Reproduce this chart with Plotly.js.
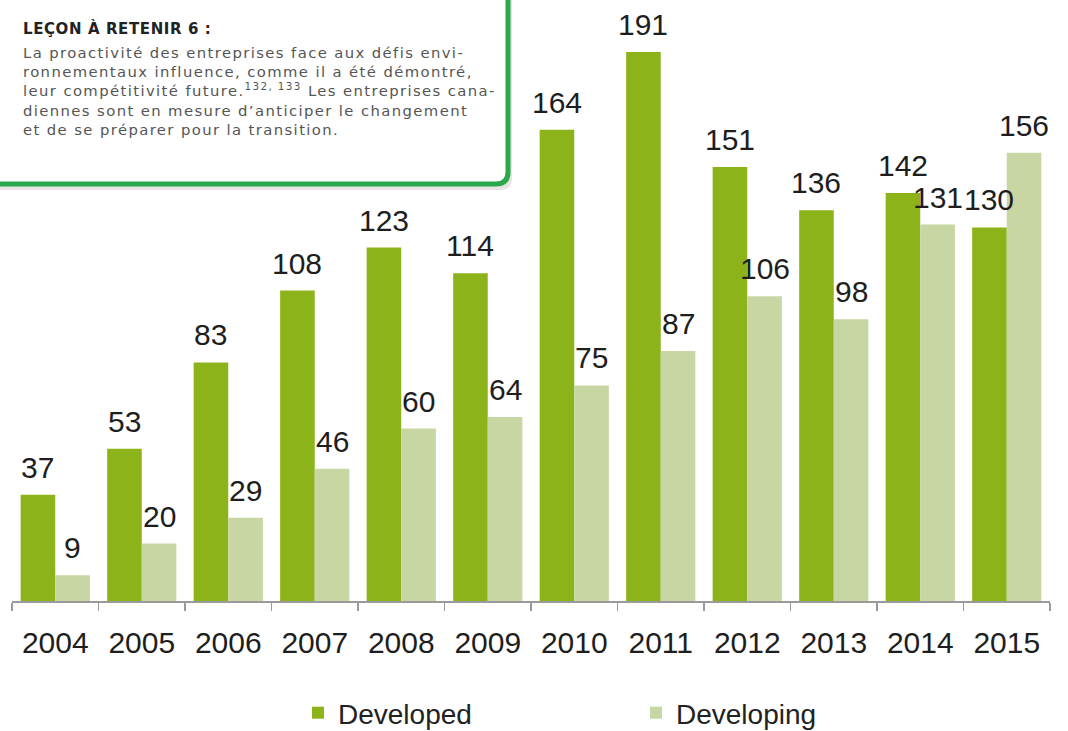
<!DOCTYPE html>
<html>
<head>
<meta charset="utf-8">
<script src="https://cdn.plot.ly/plotly-3.0.1.min.js"></script>
<style>html,body{margin:0;padding:0;background:#fff;}</style>
</head>
<body>
<div id="chart" style="width:1068px;height:731px;"></div>
<script>
// ---- data ----
const years = ['2004','2005','2006','2007','2008','2009','2010','2011','2012','2013','2014','2015'];
const developed = [37, 53, 83, 108, 123, 114, 164, 191, 151, 136, 142, 130];
const developing = [9, 20, 29, 46, 60, 64, 75, 87, 106, 98, 131, 156];
const seriesNames = ['Developed', 'Developing'];
const boxTitle = 'LEÇON À RETENIR 6 :';
const boxLines = [
  'La proactivité des entreprises face aux défis envi-',
  'ronnementaux influence, comme il a été démontré,',
  'leur compétitivité future.<sup>132, 133</sup> Les entreprises cana-',
  'diennes sont en mesure d’anticiper le changement',
  'et de se préparer pour la transition.'
];

// ---- layout geometry ----
const W = 1068, H = 731;
const M = {l: 12, r: 18, t: 20, b: 130, autoexpand: false};
const plotW = W - M.l - M.r, plotH = H - M.t - M.b;
const px = x => (x - M.l) / plotW;          // pixel -> paper x
const py = y => (H - M.b - y) / plotH;       // pixel -> paper y

const cDev = '#8db31b', cDevg = '#c7d6a2';
const labelFont = {family: 'Liberation Sans, Arial, sans-serif', size: 30, color: '#1e1e1e'};

const traces = [
  {type: 'bar', name: seriesNames[0], x: years, y: developed, marker: {color: cDev}, hoverinfo: 'x+y'},
  {type: 'bar', name: seriesNames[1], x: years, y: developing, marker: {color: cDevg}, hoverinfo: 'x+y'}
];

// value labels above bars (x given as category index)
const catW = plotW / years.length;
const off = catW * 0.8 / 4;
const annotations = [];
years.forEach((yr, i) => {
  annotations.push({x: i, y: developed[i], xref: 'x', yref: 'y', text: String(developed[i]),
    showarrow: false, yanchor: 'bottom', xshift: -off, yshift: 9, font: labelFont});
  annotations.push({x: i, y: developing[i], xref: 'x', yref: 'y', text: String(developing[i]),
    showarrow: false, yanchor: 'bottom', xshift: off, yshift: 9, font: labelFont});
});

// text box
annotations.push({xref: 'paper', yref: 'paper', x: px(21), y: py(28), xanchor: 'left', yanchor: 'middle',
  text: '<span style="letter-spacing:0.6px"><b>' + boxTitle + '</b></span>', showarrow: false,
  font: {family: 'DejaVu Sans, sans-serif', size: 15, color: '#222'}});
annotations.push({xref: 'paper', yref: 'paper', x: px(21), y: py(42), xanchor: 'left', yanchor: 'top',
  align: 'left', text: boxLines.map(l => '<span style="letter-spacing:1.4px">' + l + '</span>').join('<br>'),
  showarrow: false,
  font: {family: 'DejaVu Sans, sans-serif', size: 14.8, color: '#555'}});

function roundedBox(x0, y0, x1, y1, r) {
  return 'M' + px(x0) + ',' + py(y0) +
    ' L' + px(x1 - r) + ',' + py(y0) +
    ' Q' + px(x1) + ',' + py(y0) + ' ' + px(x1) + ',' + py(y0 + r) +
    ' L' + px(x1) + ',' + py(y1 - r) +
    ' Q' + px(x1) + ',' + py(y1) + ' ' + px(x1 - r) + ',' + py(y1) +
    ' L' + px(x0 + r) + ',' + py(y1) +
    ' Q' + px(x0) + ',' + py(y1) + ' ' + px(x0) + ',' + py(y1 - r) + ' Z';
}
const shapes = [
  {type: 'path', xref: 'paper', yref: 'paper', path: roundedBox(-30, -30, 512, 190, 12),
    fillcolor: 'rgba(120,110,90,0.18)', line: {width: 0}, layer: 'above'},
  {type: 'path', xref: 'paper', yref: 'paper', path: roundedBox(-30, -30, 508, 184, 12),
    fillcolor: '#ffffff', line: {color: '#2aa94c', width: 5}, layer: 'above'}
];

const layout = {
  width: W, height: H,
  margin: M,
  paper_bgcolor: '#ffffff', plot_bgcolor: '#ffffff',
  barmode: 'group', bargap: 0.2, bargroupgap: 0,
  showlegend: true,
  legend: {orientation: 'h', x: px(298), xanchor: 'left', y: py(713), yanchor: 'middle',
    entrywidth: 293, entrywidthmode: 'pixels',
    font: {family: 'Liberation Sans, Arial, sans-serif', size: 28, color: '#222'}},
  xaxis: {type: 'category', range: [-0.5, years.length - 0.5], autorange: false,
    showline: true, linecolor: '#9a9a9a', linewidth: 1.5,
    ticks: 'outside', tickson: 'boundaries', ticklen: 8, tickcolor: '#9a9a9a', tickwidth: 1.5,
    showgrid: false, ticklabelstandoff: 14, tickangle: 0,
    tickfont: {family: 'Liberation Sans, Arial, sans-serif', size: 30, color: '#1e1e1e'}},
  yaxis: {range: [0, plotH / 2.874], visible: false, showgrid: false, zeroline: false, fixedrange: true},
  annotations: annotations,
  shapes: shapes
};

Plotly.newPlot('chart', traces, layout, {displayModeBar: false, staticPlot: true});
</script>
</body>
</html>
